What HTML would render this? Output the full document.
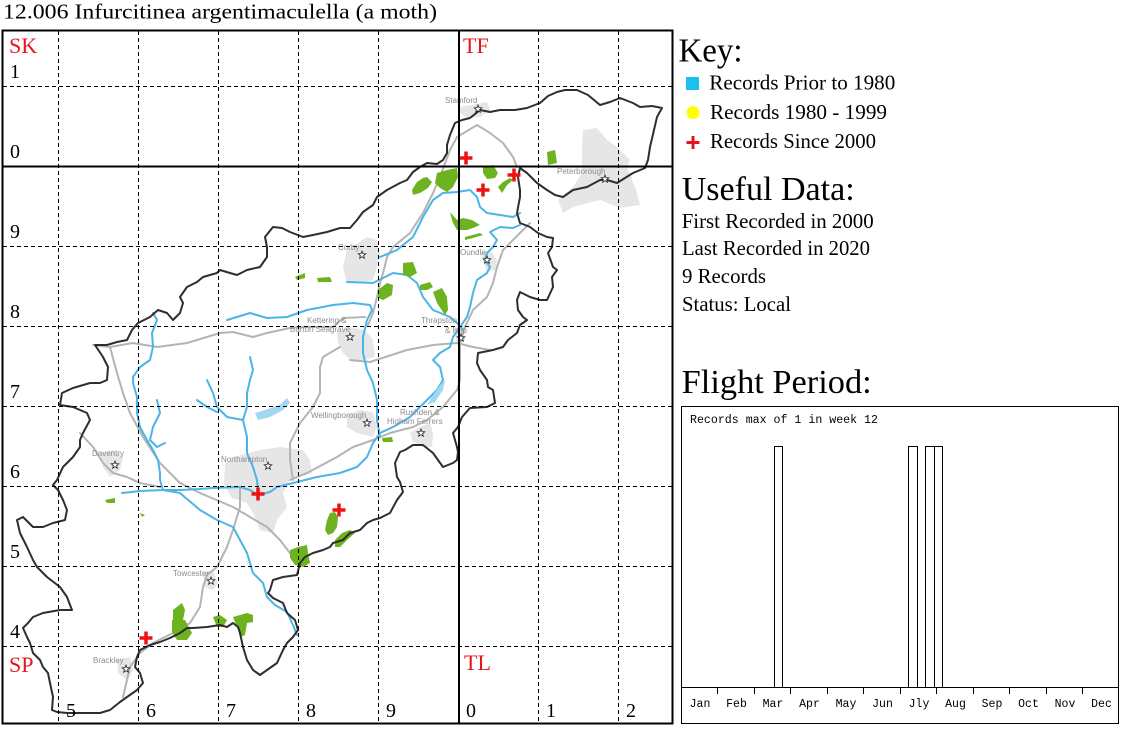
<!DOCTYPE html>
<html><head><meta charset="utf-8"><style>
html,body{margin:0;padding:0;background:#fff;}
svg{display:block;}
.s{font-family:"Liberation Serif",serif;}
.m{font-family:"Liberation Mono",monospace;font-size:11.5px;}
.t{font-family:"Liberation Sans",sans-serif;font-size:8px;fill:#8c8c8c;}
</style></head><body>
<svg width="1124" height="729" viewBox="0 0 1124 729" xmlns="http://www.w3.org/2000/svg">
<rect width="1124" height="729" fill="#fff"/>
<text class="s" x="3" y="18.5" font-size="21" textLength="434" lengthAdjust="spacingAndGlyphs">12.006 Infurcitinea argentimaculella (a moth)</text>

<!-- towns -->
<g fill="#e6e6e6">
<polygon points="460,107 487,102 490,110 480,117 467,118 460,113"/>
<polygon points="583,130 597,128 607,140 617,147 630,160 627,167 636,190 640,205 620,208 600,200 573,207 563,213 558,200 573,187 582,173 582,147"/>
<polygon points="347,250 367,237 377,240 380,253 377,267 373,280 363,283 347,283 343,267"/>
<polygon points="337,332 350,327 365,330 373,340 375,357 363,360 353,362 343,353 338,343"/>
<polygon points="347,415 360,410 373,412 377,427 373,437 357,433 347,427"/>
<polygon points="410,433 420,427 430,423 433,433 432,447 423,447 413,442"/>
<polygon points="225,463 240,455 260,450 280,447 303,450 310,460 312,473 290,480 283,493 287,507 277,520 273,533 260,530 253,513 247,503 232,498 224,485"/>
<polygon points="100,453 113,450 123,457 120,470 110,477 103,467"/>
<polygon points="203,573 213,570 218,583 213,590 205,587"/>
<polygon points="117,660 130,657 133,670 127,680 118,673"/>
<polygon points="480,253 490,250 497,260 495,270 487,272"/>
<polygon points="453,327 463,325 465,340 458,347"/>
</g>

<!-- roads -->
<g fill="none" stroke="#b4b4b4" stroke-width="2" stroke-linejoin="round" stroke-linecap="round">
<polyline points="93,345 110,347 133,343 157,347 187,343 220,333 233,332 253,337 267,333 290,328 307,327 333,327 343,318 365,317"/>
<polyline points="350,360 370,362 407,350 433,345 457,343 473,347 490,350"/>
<polyline points="110,347 117,373 123,393 130,413 143,437 160,463 180,483 200,493 233,507 267,527 280,540 293,557 300,567"/>
<polyline points="80,433 93,447 103,463 113,473 127,477 140,483 160,487"/>
<polyline points="240,487 240,507 233,530 227,547 217,567 207,575 203,587 200,607 190,623 173,633 153,643 140,653 130,667 127,680 123,697"/>
<polyline points="290,480 307,473 337,457 353,447 373,440 390,433 413,427 427,420 443,407 457,390 460,380 460,343 465,327 473,310 487,297 493,283 497,267 503,250 520,233 530,223"/>
<polyline points="340,347 323,357 320,367 320,393 313,407 300,423 290,443 290,460 293,480"/>
<polyline points="477,125 457,137 450,150 440,177 433,193 423,213 410,233 393,247 387,257 383,273 380,283 377,297 373,313 368,325"/>
<polyline points="477,125 490,133 503,143 513,157 517,167"/>
</g>

<!-- rivers -->
<g fill="none" stroke="#4cb4e6" stroke-width="2" stroke-linejoin="round" stroke-linecap="round">
<polyline points="122,493 140,491 163,490 180,490 200,489 213,488 240,487 250,490 258,495 270,492 277,487 293,483 317,477 340,473 357,467 367,457 373,443 380,433 393,427 410,417 427,400 437,390 443,380 440,367 433,360 440,353 450,347 453,337 460,327 467,317 470,307 473,293 477,280 487,273 490,267 485,260 487,253 493,247 497,240 490,232 500,227 513,228 520,225"/>
<polyline points="380,257 397,250 413,237 423,217 433,200 443,193 457,192 470,190 477,197 480,207 487,213 500,215 513,217 520,213"/>
<polyline points="347,282 373,283 383,278 393,273 407,275 417,283 423,297 433,310 450,317 457,323 463,330"/>
<polyline points="227,320 250,313 267,318 287,317 307,310 333,305 353,303 370,305 372,310 367,320 363,337 363,353 367,370 373,383 377,400 377,420 380,437"/>
<polyline points="153,313 157,320 152,333 153,347 150,360 140,367 133,377 133,383 137,397 137,413 140,427 147,440 153,450 158,460 160,473 160,480 163,490"/>
<polyline points="157,400 160,413 153,427 150,440 157,447 165,443"/>
<polyline points="250,357 253,370 250,380 247,393 247,407 243,420 247,437 247,453 253,467 257,480 258,490"/>
<polyline points="207,380 213,393 217,407 227,417 243,420"/>
<polyline points="197,400 207,407 217,412"/>
<polyline points="163,490 180,493 200,510 217,520 233,527 240,540 247,553 253,573 263,583 267,597 275,605 287,612 293,625 297,635"/>
</g>
<g fill="#9fd8f0">
<polygon points="255,413 265,410 280,405 287,398 290,403 283,410 270,417 258,420"/>
<polygon points="427,405 433,395 440,385 445,380 443,390 435,402"/>
</g>

<!-- woods -->
<g fill="#6cb31f">
<polygon points="412,190 417,182 423,178 427,177 432,182 428,188 420,193 413,195"/>
<polygon points="437,173 447,170 457,168 458,177 453,187 447,192 440,188 435,183"/>
<polygon points="483,167 493,165 498,173 495,178 487,179 483,173"/>
<polygon points="498,187 503,182 510,178 513,180 507,185 502,193"/>
<polygon points="450,212 457,220 463,218 472,220 480,225 473,228 467,230 457,230 453,223"/>
<polygon points="465,237 480,233 483,235 473,238 465,240"/>
<polygon points="547,152 555,150 557,163 548,165"/>
<polygon points="295,277 305,273 305,278 297,280"/>
<polygon points="317,278 330,277 332,282 318,282"/>
<polygon points="403,263 413,262 417,273 410,277 403,275"/>
<polygon points="378,290 387,283 393,285 392,295 383,300 378,298"/>
<polygon points="420,285 430,282 433,287 427,290 420,290"/>
<polygon points="433,292 442,288 447,297 448,310 445,315 437,303"/>
<polygon points="382,438 392,437 393,442 383,442"/>
<polygon points="327,520 330,513 335,512 338,517 337,527 333,533 328,535 325,530"/>
<polygon points="335,540 342,533 350,530 355,533 347,540 340,547 335,547"/>
<polygon points="290,550 298,547 307,545 308,553 310,563 303,567 295,565 290,558"/>
<polygon points="173,610 182,603 185,610 183,620 173,620"/>
<polygon points="172,620 185,620 192,633 187,640 177,640 172,632"/>
<polygon points="213,617 220,615 227,620 223,627 217,627"/>
<polygon points="233,617 247,613 253,615 253,622 247,623 245,635 240,637 238,630"/>
<polygon points="105,500 115,498 115,503 107,503"/>
<polygon points="140,513 145,515 142,517"/>
</g>

<!-- county boundary -->
<polygon fill="none" stroke="#2e2e2e" stroke-width="2" stroke-linejoin="round" points="455,123 462,120 470,118 480,110 490,112 500,110 515,110 527,108 540,103 548,96 557,92 565,90 577,90 588,95 600,105 610,102 620,98 633,103 640,107 652,106 662,108 657,117 654,130 650,147 648,160 645,168 633,173 625,178 617,183 607,180 600,180 587,187 573,190 563,197 555,195 547,190 537,183 527,173 520,168 518,177 520,190 520,197 517,213 520,223 530,227 538,233 547,237 553,238 552,247 548,253 553,267 557,270 552,277 553,287 547,300 540,300 530,297 520,292 517,300 518,310 523,317 527,320 520,325 517,333 508,340 503,347 493,350 483,352 478,353 477,363 480,370 487,380 488,387 493,390 495,403 487,407 470,408 462,417 458,427 453,433 457,447 458,452 457,460 453,463 443,467 433,453 423,445 413,445 405,450 400,452 395,463 397,477 400,482 403,492 397,500 390,513 380,518 373,520 367,523 360,530 350,533 343,540 333,543 330,547 323,550 313,553 305,557 300,563 297,575 283,577 273,580 270,590 268,593 273,598 283,603 287,613 295,620 298,630 293,637 287,643 283,650 277,663 267,670 260,675 253,670 247,660 243,647 240,633 238,627 233,623 227,627 220,625 207,627 193,628 187,628 180,633 170,638 160,642 150,645 140,650 137,657 135,667 140,673 143,683 137,690 127,697 120,702 110,710 100,713 83,713 67,713 57,712 52,710 53,697 50,683 48,673 43,667 40,660 33,653 30,643 27,637 23,628 28,623 33,617 43,613 60,610 72,610 67,597 60,587 47,577 37,567 33,560 27,547 20,533 17,520 23,517 33,527 43,527 53,523 65,520 67,510 63,500 58,490 53,485 57,480 63,467 73,457 80,447 80,440 83,433 90,420 87,413 73,407 60,405 62,393 73,388 90,383 100,383 107,380 108,367 103,357 95,345 107,345 117,342 127,340 132,330 138,323 150,317 158,310 167,313 173,320 180,313 183,303 180,297 187,287 197,282 203,277 217,273 220,270 230,273 237,275 247,270 260,267 267,257 267,247 265,237 273,227 282,228 290,232 303,237 313,235 327,232 340,228 350,228 357,220 363,212 373,205 377,197 387,190 400,183 407,180 413,172 420,167 427,163 437,164 443,160 447,153 447,145 450,135"/>

<!-- town labels and stars -->
<g class="t">
<text x="445" y="103">Stamford</text>
<text x="557" y="174">Peterborough</text>
<text x="338" y="250">Corby</text>
<text x="460" y="255">Oundle</text>
<text x="307" y="323">Kettering &amp;</text>
<text x="290" y="332">Barton Seagrave</text>
<text x="421" y="323">Thrapston</text>
<text x="445" y="333">&amp; Islip</text>
<text x="311" y="418">Wellingborough</text>
<text x="400" y="415">Rushden &amp;</text>
<text x="387" y="424">Higham Ferrers</text>
<text x="221" y="462">Northampton</text>
<text x="92" y="456">Daventry</text>
<text x="173" y="576">Towcester</text>
<text x="93" y="663">Brackley</text>
</g>
<g fill="#fff" stroke="#222" stroke-width="0.8">
<polygon transform="translate(478,109)" points="0,-4 1,-1.4 3.8,-1.2 1.6,0.5 2.35,3.2 0,1.7 -2.35,3.2 -1.6,0.5 -3.8,-1.2 -1,-1.4"/>
<polygon transform="translate(605,179)" points="0,-4 1,-1.4 3.8,-1.2 1.6,0.5 2.35,3.2 0,1.7 -2.35,3.2 -1.6,0.5 -3.8,-1.2 -1,-1.4"/>
<polygon transform="translate(362,255)" points="0,-4 1,-1.4 3.8,-1.2 1.6,0.5 2.35,3.2 0,1.7 -2.35,3.2 -1.6,0.5 -3.8,-1.2 -1,-1.4"/>
<polygon transform="translate(487,260)" points="0,-4 1,-1.4 3.8,-1.2 1.6,0.5 2.35,3.2 0,1.7 -2.35,3.2 -1.6,0.5 -3.8,-1.2 -1,-1.4"/>
<polygon transform="translate(350,337)" points="0,-4 1,-1.4 3.8,-1.2 1.6,0.5 2.35,3.2 0,1.7 -2.35,3.2 -1.6,0.5 -3.8,-1.2 -1,-1.4"/>
<polygon transform="translate(461,338)" points="0,-4 1,-1.4 3.8,-1.2 1.6,0.5 2.35,3.2 0,1.7 -2.35,3.2 -1.6,0.5 -3.8,-1.2 -1,-1.4"/>
<polygon transform="translate(367,423)" points="0,-4 1,-1.4 3.8,-1.2 1.6,0.5 2.35,3.2 0,1.7 -2.35,3.2 -1.6,0.5 -3.8,-1.2 -1,-1.4"/>
<polygon transform="translate(421,433)" points="0,-4 1,-1.4 3.8,-1.2 1.6,0.5 2.35,3.2 0,1.7 -2.35,3.2 -1.6,0.5 -3.8,-1.2 -1,-1.4"/>
<polygon transform="translate(268,466)" points="0,-4 1,-1.4 3.8,-1.2 1.6,0.5 2.35,3.2 0,1.7 -2.35,3.2 -1.6,0.5 -3.8,-1.2 -1,-1.4"/>
<polygon transform="translate(115,465)" points="0,-4 1,-1.4 3.8,-1.2 1.6,0.5 2.35,3.2 0,1.7 -2.35,3.2 -1.6,0.5 -3.8,-1.2 -1,-1.4"/>
<polygon transform="translate(211,581)" points="0,-4 1,-1.4 3.8,-1.2 1.6,0.5 2.35,3.2 0,1.7 -2.35,3.2 -1.6,0.5 -3.8,-1.2 -1,-1.4"/>
<polygon transform="translate(126,669)" points="0,-4 1,-1.4 3.8,-1.2 1.6,0.5 2.35,3.2 0,1.7 -2.35,3.2 -1.6,0.5 -3.8,-1.2 -1,-1.4"/>
</g>

<!-- record crosses -->
<g stroke="#ee1111" stroke-width="3.5">
<path d="M459.5,158H472.5M466,151.5V164.5"/>
<path d="M476.5,190H489.5M483,183.5V196.5"/>
<path d="M507.5,175H520.5M514,168.5V181.5"/>
<path d="M251.5,494H264.5M258,487.5V500.5"/>
<path d="M332.5,510H345.5M339,503.5V516.5"/>
<path d="M139.5,638H152.5M146,631.5V644.5"/>
</g>

<!-- grid -->
<g stroke="#000" stroke-width="1" stroke-dasharray="4,3">
<line x1="58.5" y1="31" x2="58.5" y2="723"/>
<line x1="138.5" y1="31" x2="138.5" y2="723"/>
<line x1="218.5" y1="31" x2="218.5" y2="723"/>
<line x1="298.5" y1="31" x2="298.5" y2="723"/>
<line x1="378.5" y1="31" x2="378.5" y2="723"/>
<line x1="538.5" y1="31" x2="538.5" y2="723"/>
<line x1="618.5" y1="31" x2="618.5" y2="723"/>
<line x1="3" y1="86.5" x2="672" y2="86.5"/>
<line x1="3" y1="246.5" x2="672" y2="246.5"/>
<line x1="3" y1="326.5" x2="672" y2="326.5"/>
<line x1="3" y1="406.5" x2="672" y2="406.5"/>
<line x1="3" y1="486.5" x2="672" y2="486.5"/>
<line x1="3" y1="566.5" x2="672" y2="566.5"/>
<line x1="3" y1="646.5" x2="672" y2="646.5"/>
</g>
<g stroke="#000" stroke-width="2">
<line x1="459" y1="30" x2="459" y2="724"/>
<line x1="2" y1="166.5" x2="673" y2="166.5"/>
</g>
<rect x="2.5" y="30.5" width="670" height="693" fill="none" stroke="#000" stroke-width="2"/>

<!-- grid labels -->
<g class="s" font-size="22" fill="#e8141c">
<text x="9" y="53">SK</text>
<text x="463" y="53">TF</text>
<text x="9" y="672">SP</text>
<text x="464" y="670">TL</text>
</g>
<g class="s" font-size="20" fill="#000">
<text x="10" y="78">1</text>
<text x="10" y="158">0</text>
<text x="10" y="238">9</text>
<text x="10" y="318">8</text>
<text x="10" y="398">7</text>
<text x="10" y="478">6</text>
<text x="10" y="558">5</text>
<text x="10" y="638">4</text>
<text x="66" y="717">5</text>
<text x="146" y="717">6</text>
<text x="226" y="717">7</text>
<text x="306" y="717">8</text>
<text x="386" y="717">9</text>
<text x="466" y="717">0</text>
<text x="546" y="717">1</text>
<text x="626" y="717">2</text>
</g>

<!-- key -->
<text class="s" x="678.5" y="61.5" font-size="34" textLength="64" lengthAdjust="spacingAndGlyphs">Key:</text>
<rect x="686" y="77" width="13" height="13" fill="#19c0f0"/>
<text class="s" x="709.3" y="89.3" font-size="21" textLength="186" lengthAdjust="spacingAndGlyphs">Records Prior to 1980</text>
<circle cx="693" cy="112.5" r="6.5" fill="#ffff00"/>
<text class="s" x="710" y="119" font-size="21" textLength="177" lengthAdjust="spacingAndGlyphs">Records 1980 - 1999</text>
<path d="M686.5,142.5H699.5M693,136V149" stroke="#e8141c" stroke-width="3"/>
<text class="s" x="710" y="148" font-size="21" textLength="166" lengthAdjust="spacingAndGlyphs">Records Since 2000</text>

<text class="s" x="681.7" y="200" font-size="34" textLength="173" lengthAdjust="spacingAndGlyphs">Useful Data:</text>
<text class="s" x="681.7" y="228" font-size="21" textLength="192" lengthAdjust="spacingAndGlyphs">First Recorded in 2000</text>
<text class="s" x="682" y="255" font-size="21" textLength="188" lengthAdjust="spacingAndGlyphs">Last Recorded in 2020</text>
<text class="s" x="682" y="283" font-size="21" textLength="84" lengthAdjust="spacingAndGlyphs">9 Records</text>
<text class="s" x="682" y="311" font-size="21" textLength="109" lengthAdjust="spacingAndGlyphs">Status: Local</text>

<text class="s" x="681.7" y="393" font-size="34" textLength="190" lengthAdjust="spacingAndGlyphs">Flight Period:</text>

<!-- flight chart -->
<rect x="681.5" y="406.5" width="437" height="317" fill="#fff" stroke="#000" stroke-width="1"/>
<text class="m" x="690" y="423" textLength="188" lengthAdjust="spacingAndGlyphs">Records max of 1 in week 12</text>
<g fill="#fff" stroke="#000" stroke-width="1">
<rect x="774.5" y="446.5" width="8" height="241"/>
<rect x="908.5" y="446.5" width="9" height="241"/>
<rect x="925.5" y="446.5" width="9" height="241"/>
<rect x="934.5" y="446.5" width="8" height="241"/>
</g>
<line x1="681" y1="687.5" x2="1119" y2="687.5" stroke="#000" stroke-width="1"/>
<g stroke="#000" stroke-width="1">
<line x1="717.5" y1="687" x2="717.5" y2="694"/>
<line x1="754.5" y1="687" x2="754.5" y2="694"/>
<line x1="790.5" y1="687" x2="790.5" y2="694"/>
<line x1="827.5" y1="687" x2="827.5" y2="694"/>
<line x1="863.5" y1="687" x2="863.5" y2="694"/>
<line x1="900.5" y1="687" x2="900.5" y2="694"/>
<line x1="936.5" y1="687" x2="936.5" y2="694"/>
<line x1="973.5" y1="687" x2="973.5" y2="694"/>
<line x1="1009.5" y1="687" x2="1009.5" y2="694"/>
<line x1="1046.5" y1="687" x2="1046.5" y2="694"/>
<line x1="1082.5" y1="687" x2="1082.5" y2="694"/>
</g>
<g class="m" text-anchor="middle">
<text x="700" y="707">Jan</text>
<text x="736.5" y="707">Feb</text>
<text x="773" y="707">Mar</text>
<text x="809.5" y="707">Apr</text>
<text x="846" y="707">May</text>
<text x="882.5" y="707">Jun</text>
<text x="919" y="707">Jly</text>
<text x="955.5" y="707">Aug</text>
<text x="992" y="707">Sep</text>
<text x="1028.5" y="707">Oct</text>
<text x="1065" y="707">Nov</text>
<text x="1101.5" y="707">Dec</text>
</g>
</svg>
</body></html>
